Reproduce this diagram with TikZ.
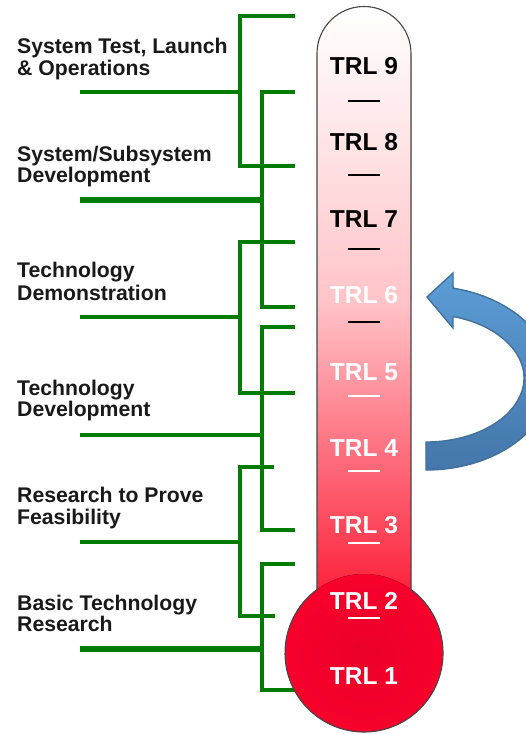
\documentclass[tikz,border=0pt]{standalone}
\usepackage{fontspec}
\setmainfont{Liberation Sans}
\definecolor{grn}{RGB}{0,125,0}
\definecolor{tubeA}{RGB}{255,236,238}
\definecolor{tubeB}{RGB}{255,196,200}
\definecolor{tubeC}{RGB}{255,92,104}
\definecolor{tubeD}{RGB}{252,30,56}
\definecolor{bulbout}{RGB}{248,0,44}
\definecolor{bulbin}{RGB}{234,0,42}
\definecolor{arrtop}{RGB}{92,157,214}
\definecolor{arrbot}{RGB}{68,118,170}
\definecolor{arredge}{RGB}{65,113,156}
\definecolor{outl}{RGB}{70,70,70}
\definecolor{txt}{RGB}{25,25,25}
\begin{document}
\begin{tikzpicture}[x=1pt,y=-1pt,
  bracket/.style={draw=grn, line width=3.6pt, line cap=butt, line join=miter},
  leadthin/.style={draw=grn, line width=3.6pt},
  leadmid/.style={draw=grn, line width=4.6pt},
  leadthick/.style={draw=grn, line width=6pt},
  trl/.style={font=\fontsize{24.5}{28}\selectfont\bfseries, inner sep=0pt},
  lab/.style={font=\fontsize{21.2}{24}\selectfont\bfseries, text=txt, inner sep=0pt, anchor=base west},
  tickbar/.style={line width=2.4pt},
  bluearrow/.style={top color=arrtop, bottom color=arrbot, draw=arredge, line width=1.4pt, line join=miter}]
\useasboundingbox (0,0) rectangle (526,734);
\clip (0,0) rectangle (526,734);
\fill[white] (0,0) rectangle (526,734);

% labels
\node[lab] (l1a) at (17,53.3) {System Test, Launch};
\node[lab] (l1b) at (17,75) {\& Operations};
\node[lab] (l2a) at (17,161) {System/Subsystem};
\node[lab] (l2b) at (17,182) {Development};
\node[lab] (l3a) at (17,277) {Technology};
\node[lab] (l3b) at (17,300) {Demonstration};
\node[lab] (l4a) at (17,395) {Technology};
\node[lab] (l4b) at (17,416) {Development};
\node[lab] (l5a) at (17,502) {Research to Prove};
\node[lab] (l5b) at (17,524) {Feasibility};
\node[lab] (l6a) at (17,610) {Basic Technology};
\node[lab] (l6b) at (17,631) {Research};

% green brackets
\draw[bracket] (295,16) -| (240,166) -- (295,166);
\draw[leadthin] (80,92) -- (240,92);
\draw[bracket] (295,92) -| (262,307) -- (295,307);
\draw[leadthick] (80,200) -- (262,200);
\draw[bracket] (295,242) -| (240,393) -- (295,393);
\draw[leadthin] (80,317) -- (240,317);
\draw[bracket] (295,327) -| (262,530) -- (295,530);
\draw[leadmid] (80,435) -- (262,435);
\draw[bracket] (274,467) -| (240,616) -- (275,616);
\draw[leadthin] (80,542) -- (240,542);
\draw[bracket] (295,564) -| (262,690) -- (300,690);
\draw[leadthick] (80,649) -- (262,649);

% thermometer
\fill[top color=white, middle color=tubeA, bottom color=tubeB]
  (317,53.5) arc[start angle=180, end angle=360, radius=47] -- (411,301) -- (317,301) -- cycle;
\fill[top color=tubeB, middle color=tubeC, bottom color=tubeD] (317,300) rectangle (411,600);
\fill[inner color=bulbin, outer color=bulbout] (364,653) circle[radius=79];
\draw[outl, line width=1.1pt] (317,53.5) arc[start angle=180, end angle=360, radius=47]
  -- (411,589.5) arc[start angle=-53.5, end angle=233.5, radius=79] -- cycle;

% level separators
\foreach \yy in {101,175,249,322} \draw[tickbar, black] (348,\yy) -- (380,\yy);
\foreach \yy in {396,471,543,618} \draw[tickbar, white] (348,\yy) -- (380,\yy);

% TRL labels
\node[trl, text=black] (t9) at (364,66) {TRL 9};
\node[trl, text=black] (t8) at (364,142) {TRL 8};
\node[trl, text=black] (t7) at (364,219) {TRL 7};
\node[trl, text=white] (t6) at (364,295) {TRL 6};
\node[trl, text=white] (t5) at (364,372) {TRL 5};
\node[trl, text=white] (t4) at (364,448) {TRL 4};
\node[trl, text=white] (t3) at (364,525) {TRL 3};
\node[trl, text=white] (t2) at (364,601) {TRL 2};
\node[trl, text=white] (t1) at (364,676) {TRL 1};

% curved arrow
\path[bluearrow] (426,470) arc[start angle=90, end angle=-77.6, x radius=126, y radius=92]
  -- (453,273) -- (427,297) -- (453,328) -- (453,316.5)
  arc[start angle=-74, end angle=90, x radius=98, y radius=64] -- cycle;
\end{tikzpicture}
\end{document}
